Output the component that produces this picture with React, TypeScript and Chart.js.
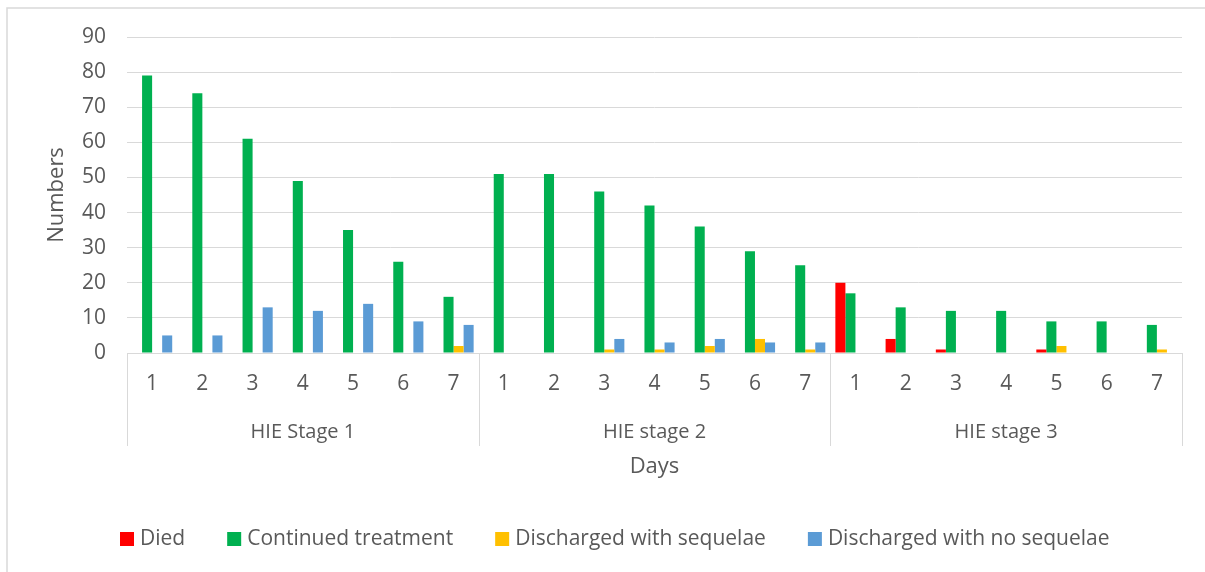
import { useEffect, useRef } from 'react';
import { Chart, registerables } from 'chart.js';

Chart.register(...registerables);

const stages = ['HIE Stage 1', 'HIE stage 2', 'HIE stage 3'];
const days = ['1', '2', '3', '4', '5', '6', '7'];
const seriesNames = ['Died', 'Continued treatment', 'Discharged with sequelae', 'Discharged with no sequelae'];
const seriesColors = ['#FF0000', '#00B050', '#FFC000', '#5B9BD5'];
const died = [0, 0, 0, 0, 0, 0, 0, 0, 0, 0, 0, 0, 0, 0, 20, 4, 1, 0, 1, 0, 0];
const continued = [79, 74, 61, 49, 35, 26, 16, 51, 51, 46, 42, 36, 29, 25, 17, 13, 12, 12, 9, 9, 8];
const withSequelae = [0, 0, 0, 0, 0, 0, 2, 0, 0, 1, 1, 2, 4, 1, 0, 0, 0, 0, 2, 0, 1];
const noSequelae = [5, 5, 13, 12, 14, 9, 8, 0, 0, 4, 3, 4, 3, 3, 0, 0, 0, 0, 0, 0, 0];
const yMax = 90;
const yStep = 10;
const xTitle = 'Days';
const yTitle = 'Numbers';

const FONT = "'Open Sans', sans-serif";
const TEXT = '#595959';
const GRID = '#D9D9D9';

const labels = stages.flatMap(() => days);

const decorPlugin = {
  id: 'decor',
  afterDraw(chart: any) {
    const { ctx, chartArea, scales } = chart;
    const x = scales.x;
    ctx.save();
    // frame
    ctx.strokeStyle = GRID;
    ctx.lineWidth = 1.5;
    ctx.strokeRect(7, 8, 1400, 1000);

    // separators
    ctx.lineWidth = 1;
    const bottomLine = 446;
    const bounds: number[] = [chartArea.left];
    for (let g = 1; g < stages.length; g++) {
      const i = g * days.length;
      bounds.push((x.getPixelForValue(i - 1) + x.getPixelForValue(i)) / 2);
    }
    bounds.push(chartArea.right);
    bounds.forEach((bx) => {
      const px = Math.round(bx) + 0.5;
      ctx.beginPath();
      ctx.moveTo(px, chartArea.bottom);
      ctx.lineTo(px, bottomLine);
      ctx.stroke();
    });

    // group labels
    ctx.fillStyle = TEXT;
    ctx.font = `20px ${FONT}`;
    ctx.textAlign = 'center';
    ctx.textBaseline = 'middle';
    stages.forEach((s, g) => {
      const a = x.getPixelForValue(g * days.length);
      const b = x.getPixelForValue(g * days.length + days.length - 1);
      ctx.fillText(s, (a + b) / 2, 432);
    });

    // axis titles
    ctx.font = `22px ${FONT}`;
    ctx.fillText(xTitle, (chartArea.left + chartArea.right) / 2, 467);
    ctx.save();
    ctx.translate(57, (chartArea.top + chartArea.bottom) / 2);
    ctx.rotate(-Math.PI / 2);
    ctx.fillText(yTitle, 0, 0);
    ctx.restore();

    // legend
    ctx.font = `21px ${FONT}`;
    ctx.textAlign = 'left';
    let lx = 120;
    const ly = 539;
    seriesNames.forEach((name, i) => {
      ctx.fillStyle = seriesColors[i];
      ctx.fillRect(lx, ly - 7, 14, 14);
      ctx.fillStyle = TEXT;
      ctx.fillText(name, lx + 20, ly);
      lx += 20 + ctx.measureText(name).width + 42;
    });
    ctx.restore();
  },
};

export default function App() {
  const ref = useRef<HTMLCanvasElement | null>(null);
  useEffect(() => {
    document.body.style.margin = '0';
    const canvas = ref.current!;
    const data = [died, continued, withSequelae, noSequelae];
    const chart = new Chart(canvas, {
      type: 'bar',
      data: {
        labels,
        datasets: seriesNames.map((name, i) => ({
          label: name,
          data: data[i],
          backgroundColor: seriesColors[i],
          borderWidth: 0,
          categoryPercentage: 0.8,
          barPercentage: 1,
        })),
      },
      options: {
        animation: false,
        responsive: false,
        layout: { padding: { top: 37, right: 23, left: 0, bottom: 0 } },
        plugins: { legend: { display: false }, tooltip: { enabled: false } },
        scales: {
          x: {
            grid: { display: false, drawTicks: false },
            border: { display: true, color: GRID, width: 1 },
            ticks: { color: TEXT, font: { family: FONT, size: 21 }, padding: 18, maxRotation: 0, autoSkip: false },
            afterFit: (s: any) => { s.height = 572 - 353; },
          },
          y: {
            min: 0,
            max: yMax,
            grid: { color: GRID, drawTicks: false },
            border: { display: false },
            ticks: { stepSize: yStep, color: TEXT, font: { family: FONT, size: 21 }, padding: 21 },
            afterFit: (s: any) => { s.width = 127; },
          },
        },
      },
      plugins: [decorPlugin],
    });
    return () => chart.destroy();
  }, []);
  return (
    <div style={{ width: 1205, height: 572 }}>
      <canvas ref={ref} width={1205} height={572} />
    </div>
  );
}
